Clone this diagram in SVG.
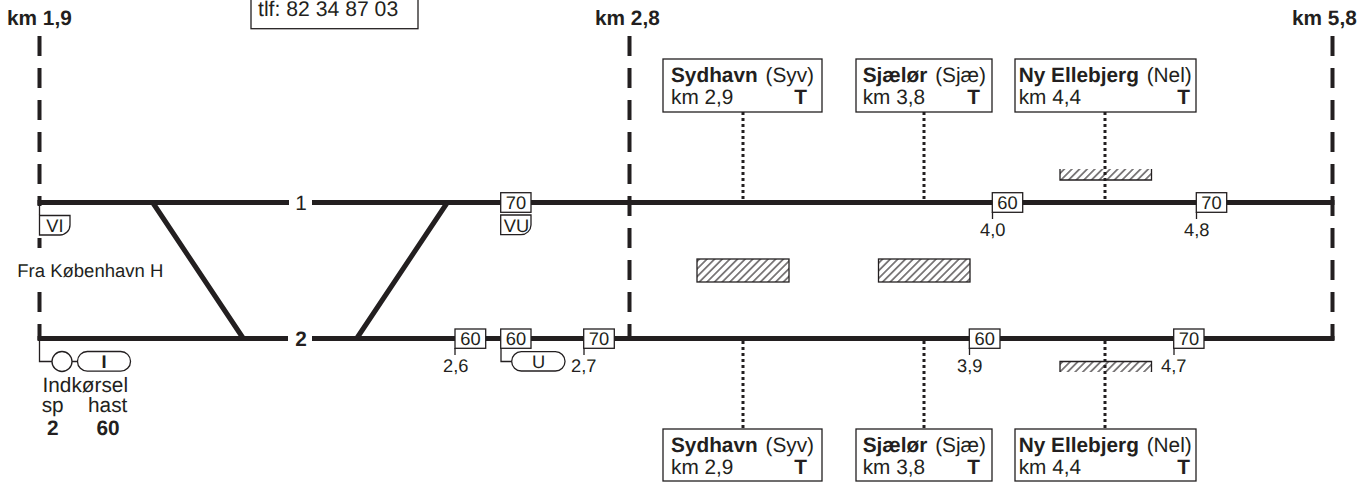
<svg xmlns="http://www.w3.org/2000/svg" width="1368" height="482" viewBox="0 0 1368 482">
<style>
text{font-family:"Liberation Sans",Arial,sans-serif;fill:#231f20;font-size:20.8px;text-rendering:geometricPrecision}
.b{font-weight:bold}
.s{font-size:18.3px}
.m{text-anchor:middle}
.e{text-anchor:end}
.box{fill:#fff;stroke:#231f20;stroke-width:1.3}
.thin{fill:none;stroke:#231f20;stroke-width:1.3}
.track{fill:none;stroke:#231f20;stroke-width:5}
.km{fill:none;stroke:#231f20;stroke-width:4;stroke-dasharray:20 12}
.dot{fill:none;stroke:#231f20;stroke-width:3;stroke-dasharray:3 3}
.hatch{fill:url(#h);stroke:none}
</style>
<defs>
<pattern id="h" width="5.4" height="5.4" patternUnits="userSpaceOnUse" patternTransform="rotate(45)">
<line x1="2.7" y1="0" x2="2.7" y2="5.4" stroke="#231f20" stroke-width="1.1"/>
</pattern>
</defs>
<g id="connectors">
<path class="km" d="M629.5 36V340M1332.5 36V340"/>
<path class="km" style="stroke-dasharray:none" d="M39.5 36V56M39.5 68V88M39.5 100V120M39.5 132V152M39.5 164V184M39.5 196V206M39.5 238V248M39.5 292V312M39.5 324V340"/>
<path class="track" d="M37.500 202.500H289M312 202.500H1334.500M37.500 338.500H288M312 338.500H1334.500"/>
<path class="track" d="M153 203L243 338M447 203L357 338"/>
<path class="dot" d="M743 112V200M924 112V200M1105 112V200M743 341V429M924 341V429M1105 341V429"/>
<path class="thin" d="M39.5 205V215M39.5 341V361.5H52M72 361.5H78M455 348V355M501 348V361.5H512M584 348V355M992.5 212V219M1196.5 212V219M969.5 348V355M1174 348V355"/>
</g>
<g id="box-tlf"><rect class="box" x="251" y="-10" width="167" height="38.7"/><text x="258" y="15.500" style="font-size:21.200px">tlf: 82 34 87 03</text></g>
<g id="km19"><text class="b" x="7" y="25">km 1,9</text></g>
<g id="km28"><text class="b" x="595" y="25">km 2,8</text></g>
<g id="km58"><text class="b" x="1292" y="25">km 5,8</text></g>
<g id="track-1-label"><text class="m" x="301" y="209.500">1</text></g>
<g id="track-2-label"><text class="b m" x="301" y="345.500">2</text></g>
<g id="fra"><text x="17.300" y="276.700" style="font-size:18.500px">Fra København H</text></g>
<g id="vi"><path class="box" d="M39.5 215.5H70V225A10 10 0 0 1 60 235H39.5Z"/><text class="s m" x="55" y="232">VI</text></g>
<g id="signal-i">
<circle class="box" cx="62" cy="361.5" r="10"/>
<rect class="box" x="77.5" y="351.5" width="53" height="19.7" rx="9.8"/>
<text class="s m b" x="104" y="368">I</text>
<text x="42.500" y="392">Indkørsel</text>
<text x="41.700" y="411.500">sp</text>
<text x="88" y="411.500">hast</text>
<text class="b m" x="52.700" y="435">2</text>
<text class="b m" x="108" y="435">60</text>
</g>
<g id="s70-vu"><rect class="box" x="500.7" y="192.7" width="30.3" height="19.6"/><text class="s m" x="516" y="209">70</text>
<path class="box" d="M500.7 215H531V225A10 10 0 0 1 521 234.700H500.7Z"/><text class="s m" x="516.500" y="232">VU</text></g>
<g id="s60-26"><rect class="box" x="455" y="329" width="30.700" height="19.300"/><text class="s m" x="470.500" y="345">60</text><text class="s" x="443" y="372">2,6</text></g>
<g id="s60-u"><rect class="box" x="500.7" y="329" width="30.300" height="19.300"/><text class="s m" x="516" y="345">60</text>
<rect class="box" x="511.700" y="351.700" width="53.300" height="19.300" rx="9.600"/><text class="s m" x="538.500" y="368">U</text></g>
<g id="s70-27"><rect class="box" x="583.7" y="329" width="30.600" height="19.300"/><text class="s m" x="599" y="345">70</text><text class="s" x="571" y="372">2,7</text></g>
<g id="s60-40"><rect class="box" x="992.300" y="192.700" width="30.400" height="19.600"/><text class="s m" x="1007.500" y="209">60</text><text class="s" x="980" y="236">4,0</text></g>
<g id="s70-48"><rect class="box" x="1196.300" y="192.700" width="30.400" height="19.600"/><text class="s m" x="1211.500" y="209">70</text><text class="s" x="1184" y="236">4,8</text></g>
<g id="s60-39"><rect class="box" x="969.300" y="329" width="30.700" height="19.300"/><text class="s m" x="984.700" y="345">60</text><text class="s" x="957" y="372">3,9</text></g>
<g id="s70-47"><rect class="box" x="1173.700" y="329" width="30.300" height="19.300"/><text class="s m" x="1189" y="345">70</text><text class="s" x="1161" y="372">4,7</text></g>
<g id="hatch-1"><rect class="hatch" x="697" y="259" width="92" height="23"/><rect class="thin" x="697" y="259" width="92" height="23"/></g>
<g id="hatch-2"><rect class="hatch" x="878.500" y="259" width="91.500" height="23"/><rect class="thin" x="878.500" y="259" width="91.500" height="23"/></g>
<g id="hatch-3"><rect class="hatch" x="1060" y="169" width="91.500" height="11"/><path class="thin" d="M1060 169V180H1151.500V169"/></g>
<g id="hatch-4"><rect class="hatch" x="1060" y="361" width="91.500" height="11"/><path class="thin" d="M1060 372V361.500H1151.500V372"/></g>
<g id="st-syd-top"><rect class="box" x="663" y="59" width="159" height="53"/><text x="671" y="81.500"><tspan class="b">Sydhavn</tspan><tspan dx="2"> (Syv)</tspan></text><text x="671" y="104">km 2,9</text><text class="b e" x="807" y="104">T</text></g>
<g id="st-sjae-top"><rect class="box" x="856" y="59" width="136" height="53"/><text x="862.700" y="81.500"><tspan class="b">Sjælør</tspan><tspan dx="2"> (Sjæ)</tspan></text><text x="862.700" y="104">km 3,8</text><text class="b e" x="980" y="104">T</text></g>
<g id="st-ny-top"><rect class="box" x="1015" y="59" width="181" height="53"/><text x="1018.700" y="81.500"><tspan class="b">Ny Ellebjerg</tspan><tspan dx="2"> (Nel)</tspan></text><text x="1018.700" y="104">km 4,4</text><text class="b e" x="1190" y="104">T</text></g>
<g id="st-syd-bot"><rect class="box" x="663" y="429" width="159" height="52"/><text x="671" y="451.500"><tspan class="b">Sydhavn</tspan><tspan dx="2"> (Syv)</tspan></text><text x="671" y="474">km 2,9</text><text class="b e" x="807" y="474">T</text></g>
<g id="st-sjae-bot"><rect class="box" x="856" y="429" width="136" height="52"/><text x="862.700" y="451.500"><tspan class="b">Sjælør</tspan><tspan dx="2"> (Sjæ)</tspan></text><text x="862.700" y="474">km 3,8</text><text class="b e" x="980" y="474">T</text></g>
<g id="st-ny-bot"><rect class="box" x="1015" y="429" width="181" height="52"/><text x="1018.700" y="451.500"><tspan class="b">Ny Ellebjerg</tspan><tspan dx="2"> (Nel)</tspan></text><text x="1018.700" y="474">km 4,4</text><text class="b e" x="1190" y="474">T</text></g>
</svg>
